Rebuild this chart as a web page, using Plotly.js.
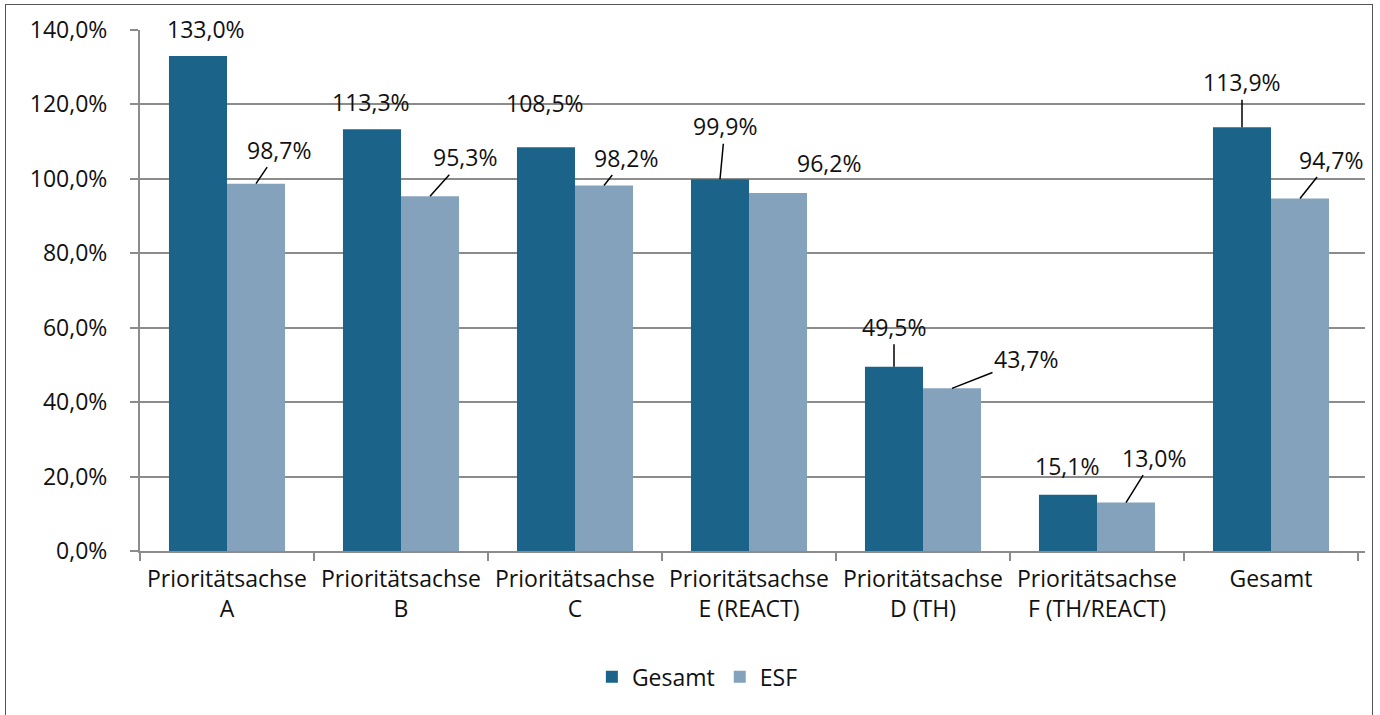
<!DOCTYPE html>
<html>
<head>
<meta charset="utf-8">
<script src="https://cdn.plot.ly/plotly-3.0.1.min.js"></script>
<style>
html,body{margin:0;padding:0;background:#fff;}
#wrap{position:relative;width:1380px;height:715px;}
#chart{width:1380px;height:715px;}
#frame{position:absolute;left:5px;top:4px;width:1366px;height:720px;border:1.5px solid #555;pointer-events:none;}
</style>
</head>
<body>
<div id="wrap"><div id="chart"></div><div id="frame"></div></div>
<script>
const categories = ["Prioritätsachse<br>A","Prioritätsachse<br>B","Prioritätsachse<br>C","Prioritätsachse<br>E (REACT)","Prioritätsachse<br>D (TH)","Prioritätsachse<br>F (TH/REACT)","Gesamt"];
const gesamtValues = [133.0,113.3,108.5,99.9,49.5,15.1,113.9];
const esfValues = [98.7,95.3,98.2,96.2,43.7,13.0,94.7];
const seriesNames = ["Gesamt","ESF"];
const yTickValues = [0,20,40,60,80,100,120,140];
const yTickLabels = ["0,0%","20,0%","40,0%","60,0%","80,0%","100,0%","120,0%","140,0%"];

// label placement (pixel offsets from bar top) and leader-line visibility
const gesamtLabelOffsets = [[8,-27,false],[-1,-27,false],[-1,-44,false],[5,-53,true],[0,-40,true],[-1,-29,false],[0,-45,true]];
const esfLabelOffsets = [[23,-34,true],[35,-39,true],[22,-28,true],[51,-30,false],[74,-29,true],[28,-45,true],[31,-39,true]];

const darkBlue = "#1B6389";
const lightBlue = "#85A2BC";
const fontFam = "'Open Sans', 'Noto Sans', sans-serif";
const fontSize = 23;

const fmt = v => v.toFixed(1).replace('.', ',') + '%';

const traces = [
  {type:'bar', name:seriesNames[0], x:categories, y:gesamtValues, marker:{color:darkBlue}, hoverinfo:'skip'},
  {type:'bar', name:seriesNames[1], x:categories, y:esfValues, marker:{color:lightBlue}, hoverinfo:'skip'}
];

const annotations = [];
function addLabels(vals, offsets, shift){
  vals.forEach((v,i)=>{
    const o = offsets[i];
    annotations.push({
      x: i + shift, y: v, xref:'x', yref:'y',
      text: fmt(v), showarrow:true, ax:o[0], ay:o[1],
      arrowhead:0, arrowwidth:1.5, arrowcolor: o[2] ? '#000' : 'rgba(0,0,0,0)',
      standoff:0, startstandoff:0,
      font:{family:fontFam, size:fontSize, color:'#111'}
    });
  });
}
addLabels(gesamtValues, gesamtLabelOffsets, -1/6);
addLabels(esfValues, esfLabelOffsets, 1/6);

const layout = {
  width:1380, height:715,
  margin:{l:140, r:15, t:30, b:164},
  paper_bgcolor:'#fff', plot_bgcolor:'#fff',
  separators:',.',
  barmode:'group', bargap:0.333, bargroupgap:0,
  font:{family:fontFam, size:fontSize, color:'#111'},
  xaxis:{
    type:'category', showline:true, linecolor:'#8c8c8c', linewidth:2,
    ticks:'outside', tickson:'boundaries', ticklen:8, tickcolor:'#8c8c8c', tickwidth:2,
    showgrid:false, tickfont:{family:fontFam, size:fontSize, color:'#111'},
    ticklabelstandoff:6, fixedrange:true
  },
  yaxis:{
    range:[0,140], tickmode:'array', tickvals:yTickValues, ticktext:yTickLabels,
    showgrid:true, gridcolor:'#8c8c8c', gridwidth:2,
    showline:true, linecolor:'#8c8c8c', linewidth:2,
    ticks:'outside', ticklen:8, tickcolor:'#8c8c8c', tickwidth:2,
    zeroline:false, tickfont:{family:fontFam, size:fontSize, color:'#111'},
    ticklabelstandoff:18, fixedrange:true
  },
  legend:{orientation:'h', x:0.455, xanchor:'center', xref:'paper', y:-0.2, yanchor:'top',
    font:{family:fontFam, size:fontSize, color:'#111'}, itemwidth:30, traceorder:'normal'},
  annotations: annotations,
  showlegend:true
};

Plotly.newPlot('chart', traces, layout, {displayModeBar:false, staticPlot:true});
</script>
</body>
</html>
